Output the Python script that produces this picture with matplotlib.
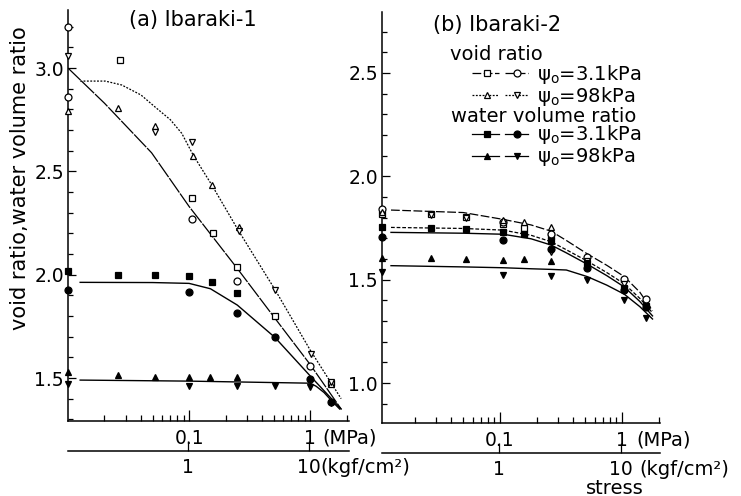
import matplotlib.pyplot as plt
import numpy as np
from matplotlib.ticker import MultipleLocator, LogLocator, NullFormatter, NullLocator, FormatStrFormatter

plt.rcParams['font.family'] = ['DejaVu Sans']

KGF = 10.197  # kgf/cm2 per MPa

# ---- (a) Ibaraki-1 : stress (MPa), ratio ; x at the left limit = points on the axis
a_sq_x = [0.027, 0.105, 0.156, 0.25, 0.51, 1.49]
a_sq_y = [3.04, 2.37, 2.20, 2.035, 1.80, 1.475]
a_ci_x = [0.01, 0.01, 0.105, 0.25, 1.0]
a_ci_y = [3.20, 2.86, 2.27, 1.97, 1.56]
a_tu_x = [0.01, 0.026, 0.052, 0.108, 0.154, 0.256, 1.49]
a_tu_y = [2.79, 2.805, 2.72, 2.575, 2.435, 2.23, 1.47]
a_td_x = [0.01, 0.052, 0.105, 0.256, 0.51, 1.02, 1.49]
a_td_y = [3.06, 2.69, 2.64, 2.21, 1.925, 1.616, 1.48]
a_fsq_x = [0.01, 0.026, 0.052, 0.1, 0.154, 0.25]
a_fsq_y = [2.02, 2.0, 2.0, 1.995, 1.965, 1.91]
a_fci_x = [0.01, 0.1, 0.25, 0.51, 1.0, 1.49]
a_fci_y = [1.925, 1.915, 1.815, 1.70, 1.494, 1.386]
a_ftu_x = [0.01, 0.026, 0.052, 0.1, 0.15, 0.25]
a_ftu_y = [1.53, 1.515, 1.505, 1.505, 1.505, 1.505]
a_ftd_x = [0.01, 0.1, 0.25, 0.51, 1.0, 1.49]
a_ftd_y = [1.47, 1.46, 1.46, 1.46, 1.455, 1.38]

# fitted curves (a)
a_void31_x = [0.01, 0.02, 0.049, 0.1, 0.25, 0.51, 1.0, 1.8]
a_void31_y = [3.0, 2.83, 2.59, 2.33, 2.03, 1.79, 1.565, 1.35]
a_void98_x = [0.0126, 0.0203, 0.0278, 0.04, 0.052, 0.07, 0.087, 0.108, 0.154, 0.254, 0.514, 1.0, 1.8]
a_void98_y = [2.937, 2.937, 2.918, 2.87, 2.813, 2.75, 2.684, 2.579, 2.434, 2.216, 1.926, 1.635, 1.40]
a_water31_x = [0.0126, 0.05, 0.1, 0.15, 0.25, 0.51, 1.0, 1.8]
a_water31_y = [1.963, 1.962, 1.958, 1.932, 1.853, 1.697, 1.51, 1.35]
a_water98_x = [0.0126, 0.1, 1.0, 1.12, 1.3, 1.5, 1.75]
a_water98_y = [1.49, 1.485, 1.475, 1.46, 1.43, 1.39, 1.35]

# ---- (b) Ibaraki-2
b_sq_x = [0.0108, 0.0272, 0.0523, 0.106, 0.158, 0.262]
b_sq_y = [1.818, 1.816, 1.805, 1.77, 1.75, 1.71]
b_ci_x = [0.0108, 0.106, 0.262, 0.52, 1.045, 1.56]
b_ci_y = [1.842, 1.78, 1.72, 1.611, 1.503, 1.405]
b_tu_x = [0.0108, 0.106, 0.158, 0.262]
b_tu_y = [1.83, 1.79, 1.78, 1.755]
b_td_x = [0.0272, 0.0523, 0.262, 0.52, 1.045, 1.56]
b_td_y = [1.812, 1.80, 1.635, 1.59, 1.48, 1.37]
b_fsq_x = [0.0108, 0.0272, 0.0523, 0.106, 0.158, 0.262, 0.52, 1.045, 1.56]
b_fsq_y = [1.756, 1.752, 1.745, 1.73, 1.72, 1.685, 1.58, 1.46, 1.375]
b_fci_x = [0.0108, 0.106, 0.262, 0.52, 1.045, 1.56]
b_fci_y = [1.705, 1.69, 1.65, 1.555, 1.45, 1.367]
b_ftu_x = [0.0108, 0.0272, 0.0523, 0.106, 0.158, 0.262]
b_ftu_y = [1.603, 1.603, 1.598, 1.595, 1.598, 1.592]
b_ftd_x = [0.0108, 0.106, 0.262, 0.52, 1.045, 1.56]
b_ftd_y = [1.536, 1.523, 1.518, 1.50, 1.40, 1.313]

# fitted curves (b)
b_curve_x = [0.0128, 0.05, 0.106, 0.18, 0.262, 0.35, 0.52, 0.75, 1.045, 1.4, 1.78]
b_void31_y = [1.837, 1.825, 1.792, 1.765, 1.735, 1.69, 1.625, 1.57, 1.515, 1.44, 1.35]
b_void98_y = [1.753, 1.748, 1.74, 1.715, 1.684, 1.645, 1.59, 1.535, 1.48, 1.41, 1.34]
b_water31_y = [1.729, 1.725, 1.72, 1.698, 1.668, 1.63, 1.575, 1.52, 1.465, 1.395, 1.325]
b_water98_y = [1.568, 1.562, 1.558, 1.553, 1.55, 1.547, 1.515, 1.474, 1.43, 1.37, 1.31]

ls_void31a = (0, (14, 1))
ls_void31 = (0, (7, 2))
ls_void98 = (0, (1.5, 1.2))
ls_void98b = (0, (3, 1.5))

fig = plt.figure(figsize=(7.41, 4.96), dpi=100)


def fx(px):
    return px / 741


def fy(py):
    return 1 - py / 496


axa = fig.add_axes([fx(68), fy(421), fx(349) - fx(68), fy(10) - fy(421)])
axb = fig.add_axes([fx(382), fy(423), fx(660) - fx(382), fy(12) - fy(423)])


def marks(ax, x, y, m, filled):
    ax.plot(x, y, ls='none', marker=m, ms=5, mew=0.9, mec='black',
            mfc='black' if filled else 'white', clip_on=False, zorder=3)


marks(axa, a_sq_x, a_sq_y, 's', False)
marks(axa, a_ci_x, a_ci_y, 'o', False)
marks(axa, a_tu_x, a_tu_y, '^', False)
marks(axa, a_td_x, a_td_y, 'v', False)
marks(axa, a_fsq_x, a_fsq_y, 's', True)
marks(axa, a_fci_x, a_fci_y, 'o', True)
marks(axa, a_ftu_x, a_ftu_y, '^', True)
marks(axa, a_ftd_x, a_ftd_y, 'v', True)
axa.plot(a_void31_x, a_void31_y, color='black', lw=0.9, ls=ls_void31a)
axa.plot(a_void98_x, a_void98_y, color='black', lw=0.9, ls=ls_void98)
axa.plot(a_water31_x, a_water31_y, color='black', lw=1.0)
axa.plot(a_water98_x, a_water98_y, color='black', lw=1.0)

marks(axb, b_sq_x, b_sq_y, 's', False)
marks(axb, b_ci_x, b_ci_y, 'o', False)
marks(axb, b_tu_x, b_tu_y, '^', False)
marks(axb, b_td_x, b_td_y, 'v', False)
marks(axb, b_fsq_x, b_fsq_y, 's', True)
marks(axb, b_fci_x, b_fci_y, 'o', True)
marks(axb, b_ftu_x, b_ftu_y, '^', True)
marks(axb, b_ftd_x, b_ftd_y, 'v', True)
axb.plot(b_curve_x, b_void31_y, color='black', lw=0.9, ls=ls_void31)
axb.plot(b_curve_x, b_void98_y, color='black', lw=0.9, ls=ls_void98b)
axb.plot(b_curve_x, b_water31_y, color='black', lw=1.0)
axb.plot(b_curve_x, b_water98_y, color='black', lw=1.0)

axa.set_xscale('log')
axb.set_xscale('log')
axa.set_xlim(0.01, 2.09)
axa.set_ylim(1.292, 3.281)
axb.set_xlim(0.0108, 2.05)
axb.set_ylim(0.807, 2.795)

for ax, dx_mpa, dx_kgf in ((axa, 12, 11), (axb, 14, 18)):
    for s in ('top', 'right'):
        ax.spines[s].set_visible(False)
    ax.spines['left'].set_linewidth(1.1)
    ax.spines['bottom'].set_linewidth(1.1)
    ax.yaxis.set_major_locator(MultipleLocator(0.5))
    ax.yaxis.set_minor_locator(MultipleLocator(0.1))
    ax.yaxis.set_major_formatter(FormatStrFormatter('%.1f'))
    ax.set_xticks([0.1, 1], labels=['0.1', '1'])
    ax.xaxis.set_minor_locator(LogLocator(base=10, subs=np.arange(2, 10)))
    ax.xaxis.set_minor_formatter(NullFormatter())
    ax.tick_params(which='both', direction='in', width=0.9)
    ax.tick_params(axis='y', which='major', length=6, labelsize=13.5, pad=3)
    ax.tick_params(axis='y', which='minor', length=3.5)
    ax.tick_params(axis='x', which='major', length=8, labelsize=13.5, pad=6)
    ax.tick_params(axis='x', which='minor', length=4)

    sec = ax.secondary_xaxis(-0.073, functions=(lambda x: x * KGF, lambda x: x / KGF))
    sec.set_ticks([1, 10], labels=['1', '10'])
    sec.xaxis.set_minor_locator(NullLocator())
    sec.tick_params(direction='in', length=7, width=0.9, labelsize=13.5, pad=5)
    sec.spines['bottom'].set_linewidth(1.1)

    ax.annotate('(MPa)', xy=(1, 0), xycoords=ax.get_xaxis_transform(),
                xytext=(dx_mpa, -8), textcoords='offset pixels',
                ha='left', va='top', fontsize=14, annotation_clip=False)
    ax.annotate('(kgf/cm²)', xy=(10 / KGF, -0.073), xycoords=ax.get_xaxis_transform(),
                xytext=(dx_kgf, -7), textcoords='offset pixels',
                ha='left', va='top', fontsize=14, annotation_clip=False)

fig.text(fx(193), fy(20), '(a) Ibaraki-1', ha='center', va='center', fontsize=15)
fig.text(fx(497), fy(25), '(b) Ibaraki-2', ha='center', va='center', fontsize=15)
fig.text(fx(20), fy(178), 'void ratio,water volume ratio', rotation=90,
         ha='center', va='center', fontsize=15)
fig.text(fx(615), fy(488), 'stress', ha='center', va='center', fontsize=14)

# legend drawn by hand, as in the original
fig.text(fx(450), fy(54), 'void ratio', ha='left', va='center', fontsize=14)
fig.text(fx(451), fy(116), 'water volume ratio', ha='left', va='center', fontsize=14)
leg_rows = [
    (73, 's', 'o', False, ls_void31, 'ψ$_\\mathregular{o}$=3.1kPa'),
    (95, '^', 'v', False, ls_void98, 'ψ$_\\mathregular{o}$=98kPa'),
    (134, 's', 'o', True, '-', 'ψ$_\\mathregular{o}$=3.1kPa'),
    (156, '^', 'v', True, '-', 'ψ$_\\mathregular{o}$=98kPa'),
]
for y, m1, m2, filled, ls, label in leg_rows:
    fc = 'black' if filled else 'white'
    for x0, x1, xm, m in ((472, 499, 487, m1), (505, 528, 517, m2)):
        axb.plot([fx(x0), fx(x1)], [fy(y), fy(y)], transform=fig.transFigure,
                 color='black', lw=0.9, ls=ls, clip_on=False)
        axb.plot([fx(xm)], [fy(y)], transform=fig.transFigure, ls='none',
                 marker=m, ms=5, mew=0.9, mec='black', mfc=fc, clip_on=False)
    fig.text(fx(537), fy(y + 1), label, ha='left', va='center', fontsize=14)

fig.savefig('out.png', dpi=100)
